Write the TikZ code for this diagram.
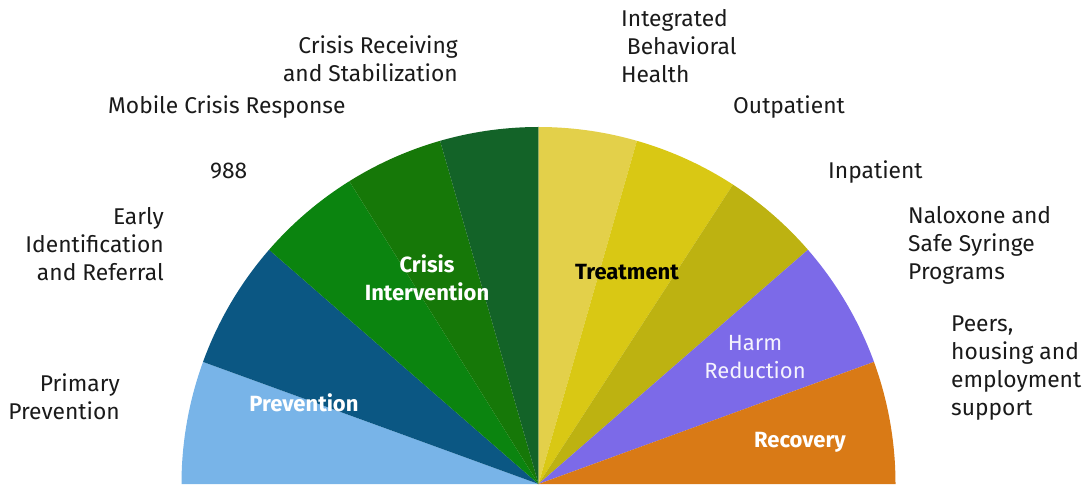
\documentclass[tikz,border=0pt]{standalone}
\usepackage{fontspec}
\setmainfont{Fira Sans}
\definecolor{cLB}{HTML}{78B4E8}
\definecolor{cDB}{HTML}{0B5783}
\definecolor{cG1}{HTML}{0B840F}
\definecolor{cG2}{HTML}{167808}
\definecolor{cG3}{HTML}{136328}
\definecolor{cY1}{HTML}{E3D04A}
\definecolor{cY2}{HTML}{D9C814}
\definecolor{cY3}{HTML}{BDB211}
\definecolor{cPU}{HTML}{7C6AE8}
\definecolor{cOR}{HTML}{D97A16}
\definecolor{txt}{HTML}{1A1A1A}
\tikzset{
  outer/.style={font=\fontsize{22.8}{28}\selectfont, text=txt, inner sep=0pt},
  inner/.style={font=\fontsize{22}{28}\selectfont\bfseries, text=white, inner sep=0pt, align=center},
}
\begin{document}
\begin{tikzpicture}[x=1pt,y=1pt]
\useasboundingbox (0,0) rectangle (1087,485);
\coordinate (C) at (538.5,1);
\def\R{357pt}
\foreach \a/\b/\c in {180/160/cLB,160/139/cDB,139/122/cG1,122/106/cG2,106/90/cG3,90/74/cY1,74/57/cY2,57/41/cY3,41/20/cPU,20/0/cOR}{
  \fill[\c] (C) -- ++(\a:\R) arc[start angle=\a, end angle=\b, radius=\R] -- cycle;
}
% inner labels
\node[inner] (ci) at (427,485-278) {Crisis\\Intervention};
\node[inner] (pv) at (304,485-403) {Prevention};
\node[inner, text=black] (tr) at (627,485-272) {Treatment};
\node[inner, font=\fontsize{22}{28}\selectfont, text=white!92!cPU] (hr) at (755,485-357) {Harm\\Reduction};
\node[inner] (rc) at (800,485-442) {Recovery};
% outer labels
\node[outer, anchor=east, align=right] (crs) at (458,485-59) {Crisis Receiving\\and Stabilization};
\node[outer, anchor=west] (mcr) at (108,485-107) {Mobile Crisis Response};
\node[outer, anchor=west] (n988) at (210,485-171) {988};
\node[outer, anchor=east, align=right] (eir) at (164,485-244) {Early\\Identification\\and Referral};
\node[outer, anchor=east, align=right] (pp) at (120,485-396.5) {Primary\\Prevention};
\node[outer, anchor=west, align=left] (ibh) at (621,485-46) {Integrated\\\hspace{0.25em}Behavioral\\Health};
\node[outer, anchor=west] (op) at (733,485-107) {Outpatient};
\node[outer, anchor=west] (ip) at (828,485-172) {Inpatient};
\node[outer, anchor=west, align=left] (nx) at (908,485-245) {Naloxone and\\Safe Syringe\\Programs};
\node[outer, anchor=west, align=left] (pe) at (951,485-368) {Peers,\\housing and\\employment\\support};
\end{tikzpicture}
\end{document}
